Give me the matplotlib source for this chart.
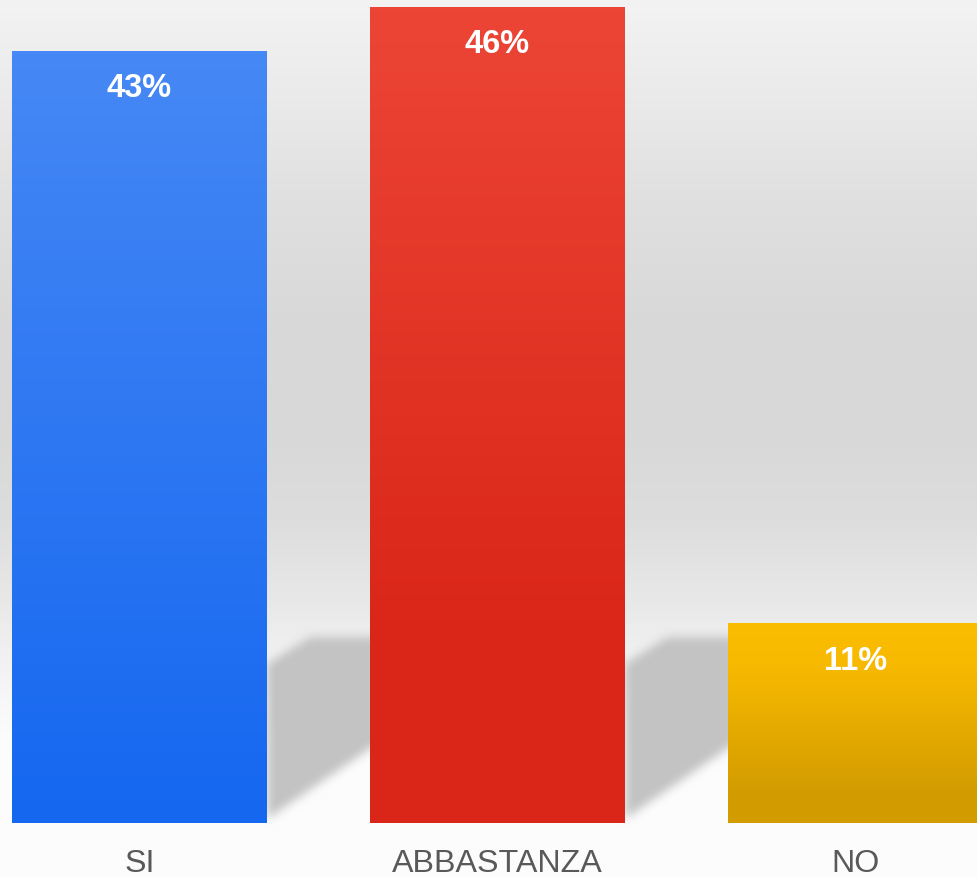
import numpy as np
import matplotlib
matplotlib.use('Agg')
import matplotlib.pyplot as plt
from matplotlib.path import Path
from matplotlib.colors import LinearSegmentedColormap, to_rgb

categories = ['SI', 'ABBASTANZA', 'NO']
values = [43.2, 45.66, 11.14]
value_labels = ['43%', '46%', '11%']

# gradient stops (top -> bottom) for each bar
bar_stops = [
    [(0.0, '#4688f5'), (1.0, '#1567f0')],
    [(0.0, '#ec4536'), (0.75, '#da2719'), (1.0, '#d92618')],
    [(0.0, '#fbbd00'), (0.2, '#f8ba00'), (0.85, '#d39c00'), (1.0, '#d29c00')],
]

plt.rcParams['font.family'] = ['Liberation Sans', 'DejaVu Sans']

W, H = 977, 878
PX = 17.87          # pixels per percent point
BASE = 824          # baseline row in pixels
fig = plt.figure(figsize=(W / 100, H / 100), dpi=100)
ax = fig.add_axes([0, 0, 1, 1])
xlim = (-139.5 / 358, (W - 139.5) / 358)
ylim = (-(H - BASE) / PX, BASE / PX)

# background: wall gradient fading into a white floor
wall = [(0, 243), (100, 234), (200, 224), (330, 216), (430, 216), (520, 221),
        (600, 232), (650, 240), (700, 247), (740, 252), (H, 252)]
rows = np.arange(H)
g = np.interp(rows, [p for p, _ in wall], [v for _, v in wall]) / 255.0
bg = np.repeat(np.repeat(g[:, None], W, axis=1)[:, :, None], 3, axis=2)
ax.imshow(bg, extent=[xlim[0], xlim[1], ylim[0], ylim[1]], aspect='auto',
          interpolation='nearest', zorder=0)

x = np.arange(len(categories))
bars = ax.bar(x, values, width=255 / 358, color='none', zorder=3)

# soft floor shadows between bars
nx, ny = W, H
gx = np.linspace(xlim[0], xlim[1], nx)
gy = np.linspace(ylim[1], ylim[0], ny)
XX, YY = np.meshgrid(gx, gy)
pts = np.column_stack([XX.ravel(), YY.ravel()])
mask = np.zeros(nx * ny)
rects = bars.patches
for a, b in zip(rects[:-1], rects[1:]):
    xr = a.get_x() + a.get_width()
    xl = b.get_x()
    slope = 3.95 / (xl - xr)
    poly = Path([(xr, 0.2), (xr, 8.9), (xr + 0.12, 10.4), (xl + 0.1, 10.4),
                 (xl + 0.1, 0.2 + slope * (xl + 0.1 - xr)), (xr, 0.2)])
    mask = np.maximum(mask, poly.contains_points(pts).astype(float))
mask = mask.reshape(ny, nx)
k = np.ones(11) / 11.0
for _ in range(2):
    mask = np.apply_along_axis(lambda r: np.convolve(r, k, mode='same'), 1, mask)
    mask = np.apply_along_axis(lambda c: np.convolve(c, k, mode='same'), 0, mask)
shadow = np.zeros((ny, nx, 4))
shadow[..., :3] = to_rgb('#c3c3c3')
shadow[..., 3] = mask
ax.imshow(shadow, extent=[xlim[0], xlim[1], ylim[0], ylim[1]], aspect='auto',
          interpolation='nearest', zorder=1)

# gradient fill of bars
grad = np.linspace(0, 1, 256)[:, None]
for rect, stops, lab, cat, xi in zip(rects, bar_stops, value_labels, categories, x):
    cmap = LinearSegmentedColormap.from_list('g', stops)
    x0, w, h = rect.get_x(), rect.get_width(), rect.get_height()
    ax.imshow(grad, cmap=cmap, extent=[x0, x0 + w, 0, h], aspect='auto',
              origin='upper', zorder=3)
    ax.text(xi, h - 45 / PX, lab, ha='center', va='baseline', color='white',
            fontsize=23.5, fontweight='bold', zorder=5)
    ax.text(xi, -48 / PX, cat, ha='center', va='baseline', color='#595959',
            fontsize=23.2, zorder=5)

ax.set_xlim(*xlim)
ax.set_ylim(*ylim)
ax.axis('off')
fig.savefig('out.png', dpi=100)
